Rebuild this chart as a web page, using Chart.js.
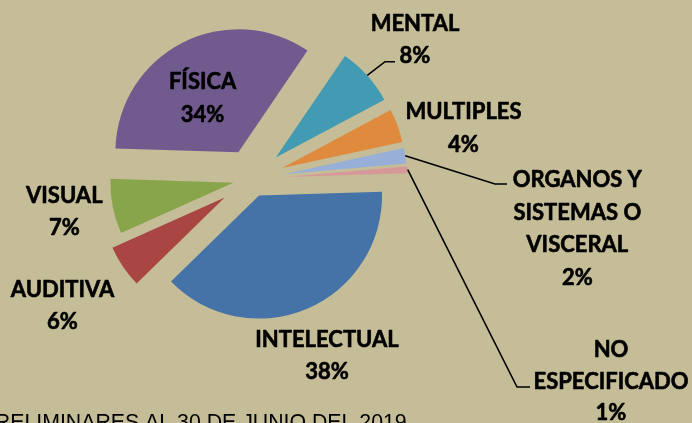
<!DOCTYPE html>
<html><head><meta charset="utf-8">
<script src="https://cdn.jsdelivr.net/npm/chart.js@4"></script>
<style>html,body{margin:0;padding:0;background:#C4BD97;overflow:hidden}canvas{display:block}</style>
</head><body><canvas id="c" width="692" height="423"></canvas>
<script>
// ---- data ----
const categories = ['INTELECTUAL','AUDITIVA','VISUAL','FÍSICA','MENTAL','MULTIPLES','ORGANOS Y\nSISTEMAS O\nVISCERAL','NO\nESPECIFICADO'];
const values = [38.2, 5.6, 7.2, 34.0, 7.7, 4.4, 2.0, 0.9];
const footnote = 'PRELIMINARES AL 30 DE JUNIO DEL 2019';

// ---- styles / layout ----
const colors = ['#4572A7','#A94643','#89A54C','#715A8E','#429BB3','#E08A3E','#98AFD8','#D7989A'];
const explode = [18, 33, 19, 30, 32, 32, 32, 33];
const labelLayout = [
  {x:327,   y:339,   step:32.5},
  {x:62.5,  y:289.2, step:31.6},
  {x:64.3,  y:194.7, step:32},
  {x:202.6, y:81,    step:32.8},
  {x:415,   y:23.3,  step:32.2},
  {x:463.5, y:111.3, step:33.2},
  {x:577.3, y:179.2, step:32.5},
  {x:611,   y:349.5, step:31.5}
];
const leaders = {4:[[385,61.7],[395,61.7]], 6:[[495,184],[507,184]], 7:[[517,387],[530,387]]};
const FONT_PX = 22;

const explodePlugin = {
  id: 'explode',
  beforeDatasetDraw(chart, args) {
    const ctx = chart.ctx;
    args.meta.data.forEach((arc, i) => {
      const mid = (arc.startAngle + arc.endAngle) / 2;
      ctx.save();
      ctx.translate(Math.cos(mid) * explode[i], Math.sin(mid) * explode[i]);
      arc.draw(ctx);
      ctx.restore();
    });
    return false;
  },
  afterDraw(chart) {
    const ctx = chart.ctx;
    const arcs = chart.getDatasetMeta(0).data;
    ctx.save();
    // leader lines
    ctx.strokeStyle = '#000';
    ctx.lineWidth = 1.6;
    Object.keys(leaders).forEach(k => {
      const i = +k, arc = arcs[i];
      const mid = (arc.startAngle + arc.endAngle) / 2;
      const r = arc.outerRadius + explode[i];
      ctx.beginPath();
      ctx.moveTo(arc.x + Math.cos(mid) * r, arc.y + Math.sin(mid) * r);
      leaders[k].forEach(p => ctx.lineTo(p[0], p[1]));
      ctx.stroke();
    });
    // labels
    ctx.fillStyle = '#000';
    ctx.font = 'bold ' + FONT_PX + 'px Lato';
    ctx.textAlign = 'center';
    ctx.textBaseline = 'alphabetic';
    ctx.lineWidth = 0.6;
    ctx.lineJoin = 'round';
    const capHalf = FONT_PX * 0.72 / 2;
    categories.forEach((c, i) => {
      const lines = c.split('\n').concat([Math.round(values[i]) + '%']);
      const L = labelLayout[i];
      lines.forEach((t, j) => {
        const y = L.y + j * L.step + capHalf;
        ctx.fillText(t, L.x, y);
        ctx.strokeText(t, L.x, y);
      });
    });
    // footnote
    ctx.font = '21.3px "Liberation Sans", Arial, sans-serif';
    ctx.textAlign = 'left';
    ctx.fillText(footnote, -19.4, 429);
    ctx.restore();
  }
};

new Chart(document.getElementById('c'), {
  type: 'pie',
  data: {
    labels: categories,
    datasets: [{
      data: values,
      backgroundColor: colors,
      borderWidth: 0
    }]
  },
  options: {
    responsive: false,
    animation: false,
    events: [],
    rotation: 88.2,
    radius: 123,
    layout: {padding: {left: 0, top: 0, right: 188, bottom: 65}},
    plugins: {legend: {display: false}, tooltip: {enabled: false}, title: {display: false}}
  },
  plugins: [explodePlugin]
});
</script>
</body></html>
